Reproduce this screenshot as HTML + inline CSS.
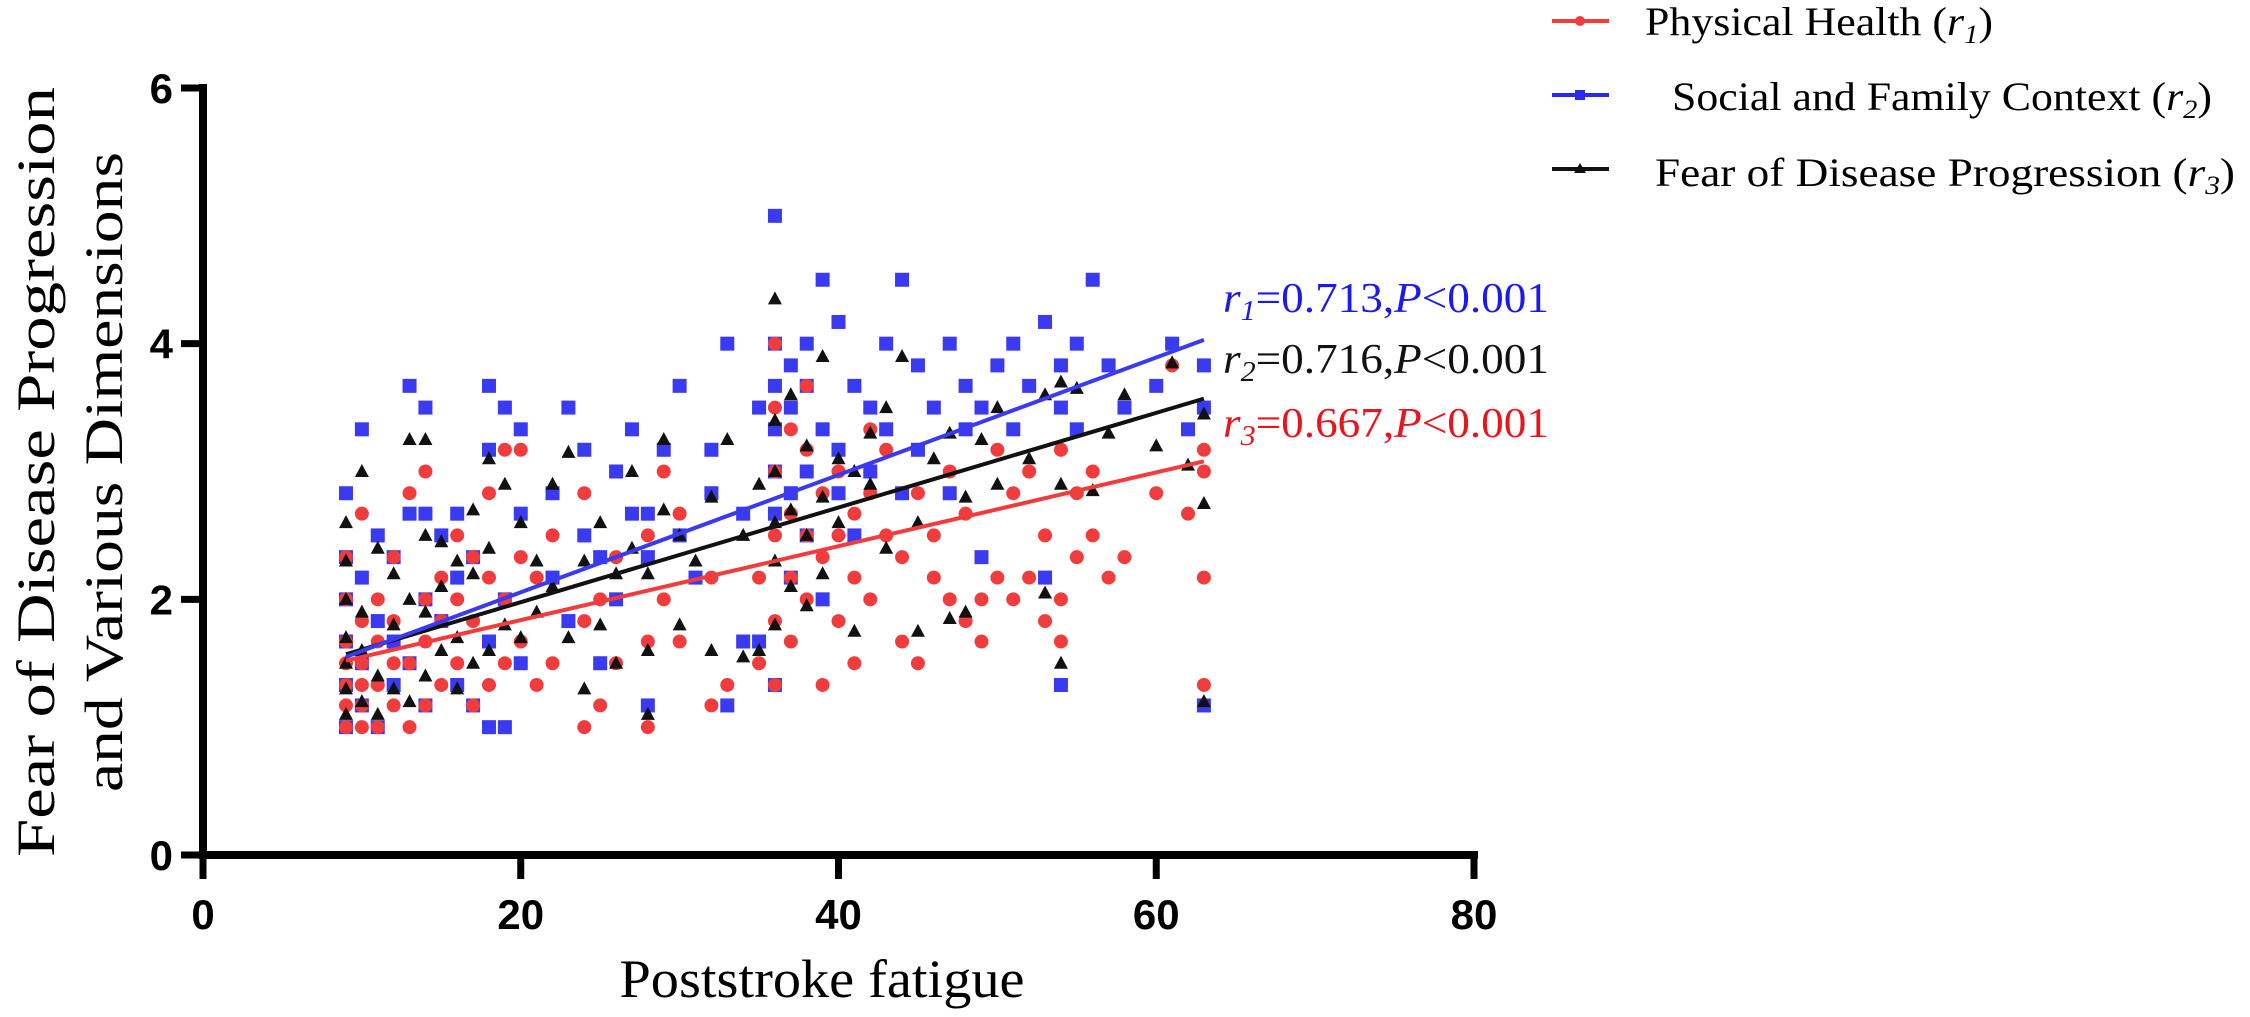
<!DOCTYPE html>
<html><head><meta charset="utf-8">
<style>
html,body{margin:0;padding:0;background:#fff;}
svg{display:block;}
</style></head>
<body>
<svg id="chart" width="2250" height="1017" viewBox="0 0 2250 1017" xmlns="http://www.w3.org/2000/svg">
  <g id="marks"></g>
  <g id="axes"></g>
  <text transform="translate(54,472) rotate(-90)" text-anchor="middle" font-family="Liberation Serif, serif" font-size="54" textLength="770" lengthAdjust="spacingAndGlyphs">Fear of Disease Progression</text>
  <text transform="translate(122,472) rotate(-90)" text-anchor="middle" font-family="Liberation Serif, serif" font-size="54" textLength="640" lengthAdjust="spacingAndGlyphs">and Various Dimensions</text>
  <text x="822" y="997" text-anchor="middle" font-family="Liberation Serif, serif" font-size="54" textLength="405" lengthAdjust="spacingAndGlyphs">Poststroke fatigue</text>
  <g font-family="Liberation Serif, serif" font-size="42">
    <text x="1223" y="312" fill="#1a1aee" textLength="326" lengthAdjust="spacingAndGlyphs"><tspan font-style="italic">r</tspan><tspan font-style="italic" font-size="28" dy="8">1</tspan><tspan dy="-8">=0.713,</tspan><tspan font-style="italic">P</tspan>&lt;0.001</text>
    <text x="1223" y="373" fill="#111" textLength="326" lengthAdjust="spacingAndGlyphs"><tspan font-style="italic">r</tspan><tspan font-style="italic" font-size="28" dy="8">2</tspan><tspan dy="-8">=0.716,</tspan><tspan font-style="italic">P</tspan>&lt;0.001</text>
    <text x="1223" y="437" fill="#e8141e" textLength="326" lengthAdjust="spacingAndGlyphs"><tspan font-style="italic">r</tspan><tspan font-style="italic" font-size="28" dy="8">3</tspan><tspan dy="-8">=0.667,</tspan><tspan font-style="italic">P</tspan>&lt;0.001</text>
  </g>
  <g font-family="Liberation Serif, serif" font-size="40">
    <g>
      <line x1="1552" y1="21" x2="1609" y2="21" stroke="#f03c3c" stroke-width="4"/>
      <circle cx="1580" cy="21" r="5" fill="#f03c3c"/>
      <text x="1645" y="35" textLength="348" lengthAdjust="spacingAndGlyphs">Physical Health (<tspan font-style="italic">r</tspan><tspan font-style="italic" font-size="26" dy="8">1</tspan><tspan dy="-8">)</tspan></text>
    </g>
    <g>
      <line x1="1552" y1="95" x2="1609" y2="95" stroke="#2a2aee" stroke-width="4"/>
      <rect x="1575" y="90" width="10" height="10" fill="#2a2aee"/>
      <text x="1672" y="110" textLength="540" lengthAdjust="spacingAndGlyphs">Social and Family Context (<tspan font-style="italic">r</tspan><tspan font-style="italic" font-size="26" dy="8">2</tspan><tspan dy="-8">)</tspan></text>
    </g>
    <g>
      <line x1="1552" y1="169" x2="1609" y2="169" stroke="#111" stroke-width="4"/>
      <polygon points="1580,163 1586,173 1574,173" fill="#111"/>
      <text x="1655" y="186" textLength="580" lengthAdjust="spacingAndGlyphs">Fear of Disease Progression (<tspan font-style="italic">r</tspan><tspan font-style="italic" font-size="26" dy="8">3</tspan><tspan dy="-8">)</tspan></text>
    </g>
  </g>
</svg>
<script>
const xTicks = [0, 20, 40, 60, 80];
const yTicks = [0, 2, 4, 6];
const fitX = [9, 63];
const redFit = [1.52, 3.08];
const blueFit = [1.55, 4.03];
const blackFit = [1.57, 3.57];
const redPts = [[9,1],[9,1.17],[9,1.33],[9,1.5],[9,1.67],[9,2],[9,2.33],[10,1],[10,1.17],[10,1.33],[10,1.5],[10,1.83],[10,2.67],[11,1],[11,1.33],[11,1.67],[11,2],[12,1.17],[12,1.5],[12,1.83],[12,2.33],[13,1],[13,1.5],[13,2.83],[14,1.17],[14,1.67],[14,2],[14,3],[15,1.33],[15,1.83],[15,2.17],[16,1.5],[16,2],[16,2.5],[17,1.17],[17,1.83],[17,2.33],[18,1.33],[18,2.17],[18,2.83],[19,1.5],[19,2],[19,3.17],[20,1.67],[20,2.33],[20,3.17],[21,1.33],[21,2.17],[22,1.5],[22,2.5],[24,1],[24,1.83],[24,2.83],[25,1.17],[25,2],[26,1.5],[26,2.33],[28,1],[28,1.67],[28,2.5],[29,2],[29,3],[30,1.67],[30,2.67],[32,1.17],[32,2.17],[33,1.33],[35,1.5],[35,2.17],[36,1.33],[36,1.83],[36,2.5],[36,3],[36,3.5],[36,4],[37,1.67],[37,2.17],[37,2.67],[37,3.33],[38,2],[38,2.5],[38,3.17],[38,3.67],[39,1.33],[39,2.33],[39,2.83],[40,1.83],[40,2.5],[40,3],[41,1.5],[41,2.17],[41,2.67],[42,2],[42,2.83],[42,3.33],[43,2.5],[43,3.17],[44,1.67],[44,2.33],[45,1.5],[45,2.83],[46,2.17],[46,2.5],[47,2],[47,3],[48,1.83],[48,2.67],[49,1.67],[49,2],[50,2.17],[50,3.17],[51,2],[51,2.83],[52,2.17],[52,3],[53,1.83],[53,2.5],[54,1.67],[54,2],[54,3.17],[55,2.33],[55,2.83],[56,2.5],[56,3],[57,2.17],[58,2.33],[60,2.83],[61,3.83],[62,2.67],[63,1.33],[63,2.17],[63,3],[63,3.17]];
const bluePts = [[9,1],[9,1.33],[9,1.67],[9,2],[9,2.33],[9,2.83],[10,1.17],[10,1.5],[10,2.17],[10,3.33],[11,1],[11,1.83],[11,2.5],[12,1.33],[12,1.67],[12,2.33],[13,1.5],[13,2.67],[13,3.67],[14,1.17],[14,2],[14,2.67],[14,3.5],[15,1.83],[15,2.5],[16,1.33],[16,2.17],[16,2.67],[17,1.17],[17,2.33],[18,1],[18,1.67],[18,3.17],[18,3.67],[19,1],[19,2],[19,3.5],[20,1.5],[20,2.67],[20,3.33],[22,2.17],[22,2.83],[23,1.83],[23,3.5],[24,2.5],[24,3.17],[25,1.5],[25,2.33],[26,2],[26,3],[27,2.67],[27,3.33],[28,1.17],[28,2.33],[28,2.67],[29,3.17],[30,2.5],[30,3.67],[31,2.17],[32,2.83],[32,3.17],[33,1.17],[33,4],[34,1.67],[34,2.67],[35,1.67],[35,3.5],[36,1.33],[36,2.67],[36,3],[36,3.33],[36,3.67],[36,4],[36,5],[37,2.17],[37,2.83],[37,3.5],[37,3.83],[38,2.5],[38,3],[38,3.67],[38,4],[39,2],[39,3.33],[39,4.5],[40,2.83],[40,3.17],[40,4.17],[41,2.5],[41,3.67],[42,3],[42,3.5],[43,3.33],[43,4],[44,2.83],[44,4.5],[45,3.17],[45,3.83],[46,3.5],[47,2.83],[47,4],[48,3.33],[48,3.67],[49,2.33],[49,3.5],[50,3.83],[51,3.33],[51,4],[52,3.67],[53,2.17],[53,4.17],[54,1.33],[54,3.5],[54,3.83],[55,3.33],[55,4],[56,4.5],[57,3.83],[58,3.5],[60,3.67],[61,4],[62,3.33],[63,1.17],[63,3.5],[63,3.83]];
const blackPts = [[9,1.1],[9,1.3],[9,1.5],[9,1.7],[9,2],[9,2.3],[9,2.6],[10,1.2],[10,1.6],[10,1.9],[10,3],[11,1.1],[11,1.4],[11,2.4],[12,1.3],[12,1.8],[12,2.2],[13,1.2],[13,2],[13,3.25],[14,1.4],[14,1.9],[14,2.5],[14,3.25],[15,1.6],[15,2.1],[15,2.45],[16,1.3],[16,1.7],[16,2.3],[17,1.5],[17,2.2],[17,2.7],[18,1.6],[18,2.4],[18,3.1],[19,1.8],[19,2.9],[20,1.7],[20,2.6],[21,1.9],[21,2.3],[22,2.1],[22,2.9],[23,1.7],[23,3.15],[24,1.3],[24,2.3],[25,1.8],[25,2.6],[26,1.5],[26,2.2],[27,2.4],[27,3],[28,1.1],[28,1.6],[28,2.2],[29,2.7],[29,3.25],[30,1.8],[30,2.5],[31,2.3],[32,1.6],[32,2.8],[33,3.25],[34,1.55],[34,2.5],[35,1.6],[35,2.9],[36,1.8],[36,2.3],[36,2.6],[36,3],[36,3.4],[36,4.35],[37,2.1],[37,2.7],[37,3.6],[38,1.95],[38,2.5],[38,3.2],[39,2.2],[39,2.8],[39,3.9],[40,2.6],[40,3.1],[41,1.75],[41,3],[42,2.9],[42,3.3],[43,2.4],[43,3.5],[44,3.9],[45,1.75],[45,2.6],[46,3.1],[47,1.85],[47,3.3],[48,1.9],[48,2.8],[49,3.25],[50,2.9],[50,3.5],[52,3.1],[53,2.05],[53,3.6],[54,1.5],[54,2.9],[54,3.7],[55,3.65],[56,2.85],[57,3.3],[58,3.6],[60,3.2],[61,3.85],[62,3.05],[63,1.2],[63,2.75],[63,3.45]];

const NS = 'http://www.w3.org/2000/svg';
const X0 = 203, X1 = 1474, Y0 = 855, Y1 = 88;
function sx(v){ return X0 + (v - 0) / 80 * (X1 - X0); }
function sy(v){ return Y0 - (v - 0) / 6 * (Y0 - Y1); }
function mk(tag, attrs, parent){ const e = document.createElementNS(NS, tag); for (const k in attrs) e.setAttribute(k, attrs[k]); parent.appendChild(e); return e; }

const marks = document.getElementById('marks');
const axes = document.getElementById('axes');

bluePts.forEach(p => {
  const e = mk('rect', {x: sx(p[0]) - 7, y: sy(p[1]) - 7, width: 14, height: 14, fill: '#3a3af0'}, marks);
  
  
});
redPts.forEach(p => {
  const e = mk('circle', {cx: sx(p[0]), cy: sy(p[1]), r: 7, fill: '#f03c3c'}, marks);
  
  
});
blackPts.forEach(p => {
  const x = sx(p[0]), y = sy(p[1]);
  const e = mk('polygon', {points: `${x},${y-7.5} ${x+7},${y+5.5} ${x-7},${y+5.5}`, fill: '#111'}, marks);
  
  
});
[[redFit, '#f03c3c', 'fit-line-physical-health'], [blackFit, '#111', 'fit-line-fear-progression'], [blueFit, '#3a3af0', 'fit-line-social-family']].forEach(f => {
  const e = mk('line', {x1: sx(fitX[0]), y1: sy(f[0][0]), x2: sx(fitX[1]), y2: sy(f[0][1]), stroke: f[1], 'stroke-width': 4}, marks);
  
  
});

const ya = mk('line', {x1: X0, y1: Y1 - 4, x2: X0, y2: Y0 + 4, stroke: '#000', 'stroke-width': 8}, axes);


const xa = mk('line', {x1: X0 - 4, y1: Y0, x2: X1 + 4, y2: Y0, stroke: '#000', 'stroke-width': 8}, axes);



yTicks.forEach(v => {
  const t = mk('line', {x1: X0 - 22, y1: sy(v), x2: X0, y2: sy(v), stroke: '#000', 'stroke-width': 7}, axes);
  
  
  const l = mk('text', {x: X0 - 30, y: sy(v) + 15, 'text-anchor': 'end', 'font-family': 'Liberation Sans, sans-serif', 'font-weight': 'bold', 'font-size': 42}, axes);
  l.textContent = String(v);
  
  
});
xTicks.forEach(v => {
  const t = mk('line', {x1: sx(v), y1: Y0, x2: sx(v), y2: Y0 + 24, stroke: '#000', 'stroke-width': 7}, axes);
  
  
  const l = mk('text', {x: sx(v), y: Y0 + 74, 'text-anchor': 'middle', 'font-family': 'Liberation Sans, sans-serif', 'font-weight': 'bold', 'font-size': 42}, axes);
  l.textContent = String(v);
  
  
});
</script>
</body></html>
